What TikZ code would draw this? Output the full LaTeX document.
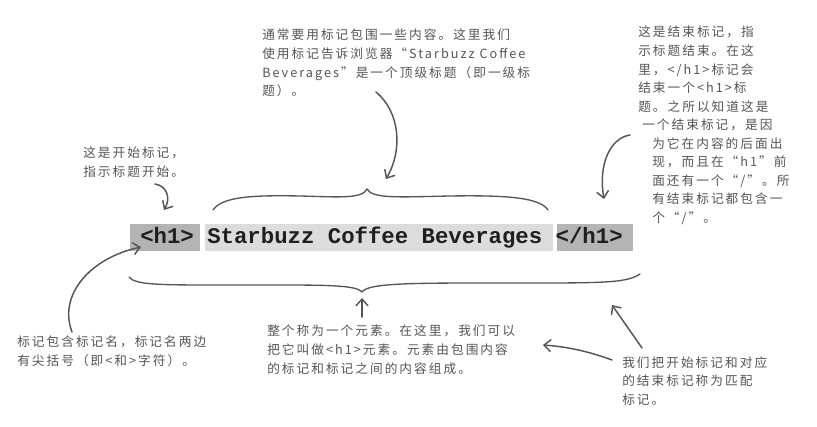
\documentclass[tikz,border=0pt]{standalone}
\usepackage{fontspec}
\setmainfont{Liberation Sans}
\newfontfamily\handfont[LetterSpace=16]{Noto Sans CJK SC}
\newfontfamily\codefont{Liberation Mono}
\usetikzlibrary{arrows.meta}
\definecolor{pencil}{HTML}{555555}
\definecolor{tagfill}{HTML}{B4B4B4}
\definecolor{contentfill}{HTML}{DCDCDC}
\begin{document}
\begin{tikzpicture}[x=0.75pt,y=-0.75pt,
  note/.style={font=\handfont\fontsize{9.5}{13.9}\selectfont, text=pencil,
    align=left, inner sep=0pt, anchor=north west},
  pen/.style={draw=pencil, line width=1.1pt, line cap=round, line join=round},
  arr/.style={pen, -{Straight Barb[length=5pt,width=9pt]}},
  brace/.style={draw=pencil, line width=1pt, line cap=round},
  hilite/.style={inner sep=0pt, minimum height=20.25pt},
  code/.style={font=\codefont\bfseries\fontsize{16.75}{20}\selectfont,
    text=black!88, inner sep=0pt, anchor=base west}]

\useasboundingbox (0,0) rectangle (817,427);
\fill[white] (0,0) rectangle (817,427);

% highlighted markup line
\node[hilite, fill=tagfill, minimum width=52.5pt] (openbox) at (165,238) {};
\node[hilite, fill=contentfill, minimum width=261pt] (contentbox) at (379,238) {};
\node[hilite, fill=tagfill, minimum width=57pt] (closebox) at (595,238) {};
\node[code] (markup) at (140,244) {<h1> Starbuzz Coffee Beverages </h1>};

% braces above and below the line
\draw[brace] (213,210) .. controls (222,197) and (250,195) .. (300,196)
  .. controls (340,197) and (362,199) .. (367,189)
  .. controls (372,199) and (400,197) .. (450,196)
  .. controls (510,195) and (540,198) .. (548,210);
\draw[brace] (129,277) .. controls (135,285) and (160,285) .. (220,285)
  .. controls (320,285) and (355,284) .. (362,292)
  .. controls (368,284) and (400,283) .. (480,283)
  .. controls (600,283) and (625,284) .. (640,274);

% annotations
\node[note] (topnote) at (262,29) {通常要用标记包围一些内容。这里我们\\使用标记告诉浏览器“Starbuzz Coffee\\Beverages”是一个顶级标题（即一级标\\题）。};

\node[note] (endnote) at (638,26) {这是结束标记，指\\示标题结束。在这\\里，</h1>标记会\\结束一个<h1>标\\题。之所以知道这是\\\hspace*{3pt}一个结束标记，是因\\\hspace*{10.5pt}为它在内容的后面出\\\hspace*{10.5pt}现，而且在“h1”前\\\hspace*{10.5pt}面还有一个“/”。所\\\hspace*{10.5pt}有结束标记都包含一\\\hspace*{10.5pt}个“/”。};

\node[note] (startnote) at (83,147) {这是开始标记，\\指示标题开始。};

\node[note] (namenote) at (17,336) {标记包含标记名，标记名两边\\有尖括号（即<和>字符）。};

\node[note] (elemnote) at (267,325) {整个称为一个元素。在这里，我们可以\\把它叫做<h1>元素。元素由包围内容\\的标记和标记之间的内容组成。};

\node[note] (matchnote) at (622,356) {我们把开始标记和对应\\的结束标记称为匹配\\标记。};

% arrow end points
\coordinate (topFrom) at (376,92);
\coordinate (topTo) at (386,179);
\coordinate (startFrom) at (155,184);
\coordinate (startTo) at (164,210);
\coordinate (endFrom) at (630,135);
\coordinate (endTo) at (604,199);
\coordinate (nameFrom) at (72,332);
\coordinate (nameTo) at (141,247);
\coordinate (elemFrom) at (362,317);
\coordinate (elemTo) at (362,298);
\coordinate (matchUpFrom) at (642,348);
\coordinate (matchUpTo) at (612,305);
\coordinate (matchLeftFrom) at (612,360);
\coordinate (matchLeftTo) at (543,345);

\draw[arr] (topFrom) .. controls (400,112) and (403,150) .. (topTo);
\draw[arr] (startFrom) .. controls (167,186) and (171,198) .. (startTo);
\draw[arr] (endFrom) .. controls (610,138) and (598,165) .. (endTo);
\draw[arr] (nameFrom) .. controls (58,295) and (90,258) .. (nameTo);
\draw[arr] (elemFrom) -- (elemTo);
\draw[arr] (matchUpFrom) -- (matchUpTo);
\draw[arr] (matchLeftFrom) .. controls (590,352) and (570,347) .. (matchLeftTo);
\end{tikzpicture}
\end{document}
